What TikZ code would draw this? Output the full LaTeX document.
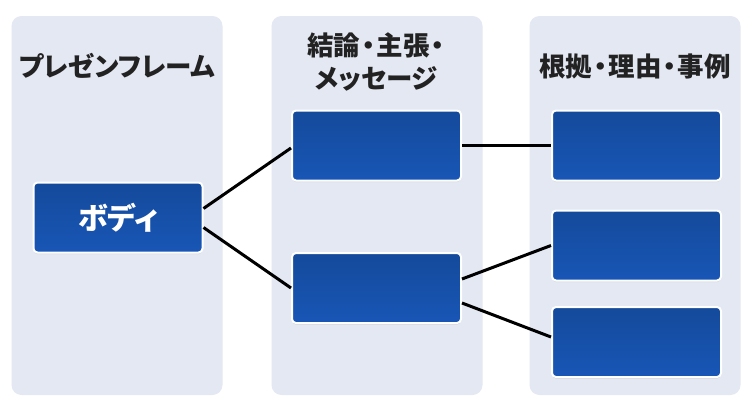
\documentclass[tikz,border=0pt]{standalone}
\usepackage{fontspec}
\newfontfamily\jp[RawFeature=+palt]{Noto Sans CJK JP}
\usetikzlibrary{shadows}
\definecolor{colbg}{HTML}{E3E8F2}
\definecolor{boxtop}{HTML}{144A9B}
\definecolor{boxbot}{HTML}{1856B6}
\definecolor{ttl}{HTML}{222222}
\newcommand{\mdot}{\kern1.5pt・\kern1.5pt}
\tikzset{
  x=1pt, y=-1pt,
  colpanel/.style={fill=colbg, rounded corners=10pt, minimum width=211pt, minimum height=379pt, inner sep=0pt},
  bluebox/.style={draw=white, line width=2pt, rounded corners=4pt, top color=boxtop, bottom color=boxbot,
    minimum width=169pt, minimum height=70pt, inner sep=0pt,
    drop shadow={opacity=0.22, shadow xshift=0pt, shadow yshift=-1.5pt}},
  title/.style={font=\jp\bfseries\fontsize{26.5}{33}\selectfont, text=ttl, align=center, inner sep=0pt},
  conn/.style={line width=3pt, draw=black}
}
\begin{document}
\begin{tikzpicture}
\useasboundingbox (0,0) rectangle (750,410);
\fill[white] (0,0) rectangle (750,410);
\node[colpanel] (p1) at (117,205.5) {};
\node[colpanel] (p2) at (377,205.5) {};
\node[colpanel] (p3) at (635,205.5) {};
\node[title] (t1) at (117,66) {プレゼンフレーム};
\node[title] (t2) at (376.5,62) {結論\mdot 主張\mdot\\メッセージ};
\node[title] (t3) at (635,66) {根拠\mdot 理由\mdot 事例};
\node[bluebox, font=\jp\bfseries\fontsize{30}{34}\selectfont, text=white] (b) at (118,217.5) {ボディ};
\node[bluebox] (m1) at (376.5,145.5) {};
\node[bluebox] (m2) at (376.5,288) {};
\node[bluebox] (r1) at (636.5,145.5) {};
\node[bluebox] (r2) at (636.5,245.5) {};
\node[bluebox] (r3) at (636.5,342) {};
\draw[conn] ([yshift=9pt]b.east) -- ([yshift=-2.5pt]m1.west);
\draw[conn] ([yshift=-10pt]b.east) -- (m2.west);
\draw[conn] (m1.east) -- (r1.west);
\draw[conn] ([yshift=9pt]m2.east) -- (r2.west);
\draw[conn] ([yshift=-15pt]m2.east) -- ([yshift=5pt]r3.west);
\end{tikzpicture}
\end{document}
